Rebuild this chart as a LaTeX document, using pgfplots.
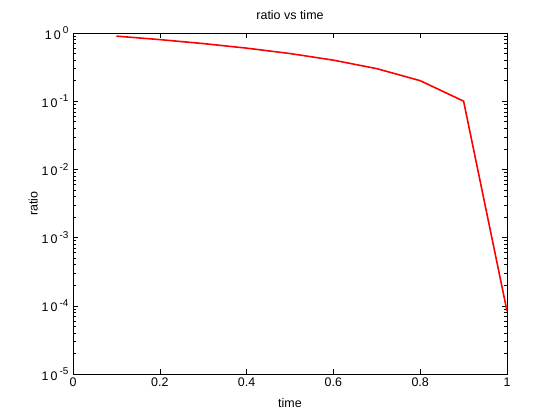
\documentclass[border=0pt]{standalone}
\usepackage{pgfplots}
\pgfplotsset{compat=1.18}
\usepackage{fontspec}
\setmainfont{Liberation Sans}
\begin{document}
\begin{tikzpicture}[x=1bp,y=1bp]
\begin{axis}[
  scale only axis, width=434bp, height=341bp,
  xmin=0, xmax=1, ymode=log, log basis y=10, ymin=1e-5, ymax=1,
  xtick={0,0.2,...,1}, ytick={1e-5,1e-4,1e-3,1e-2,1e-1,1},
  minor ytick={2e-5,3e-5,4e-5,5e-5,6e-5,7e-5,8e-5,9e-5,
    2e-4,3e-4,4e-4,5e-4,6e-4,7e-4,8e-4,9e-4,
    2e-3,3e-3,4e-3,5e-3,6e-3,7e-3,8e-3,9e-3,
    2e-2,3e-2,4e-2,5e-2,6e-2,7e-2,8e-2,9e-2,
    0.2,0.3,0.4,0.5,0.6,0.7,0.8,0.9},
  tick align=inside, major tick length=5bp, minor tick length=3bp,
  axis line style={line width=0.6pt}, every tick/.style={black, line width=0.5pt},
  /pgf/number format/assume math mode=true,
  xticklabel style={font=\fontsize{12.5}{14}\selectfont},
  yticklabel style={font=\fontsize{12.5}{14}\selectfont, xshift=-1bp},
  yticklabel={1\,0\,\raisebox{0.45em}{\fontsize{10}{12}\selectfont\pgfmathprintnumber[fixed,precision=0,assume math mode=true]{\tick}}},
  title={ratio vs time}, xlabel={time}, ylabel={ratio},
  title style={font=\fontsize{12.5}{14}\selectfont, yshift=4bp},
  xlabel style={font=\fontsize{12.5}{14}\selectfont, yshift=-5bp},
  ylabel style={font=\fontsize{12.5}{14}\selectfont, yshift=-3bp},
]
\addplot[red, line width=1.6pt] coordinates {
 (0.1,0.9) (0.2,0.8) (0.3,0.7) (0.4,0.6) (0.5,0.5) (0.6,0.4) (0.7,0.3) (0.8,0.2) (0.9,0.1) (1.0,8.4e-5)
};
\end{axis}
\pgfresetboundingbox
\useasboundingbox ([shift={(-73bp,-46bp)}]current axis.south west) rectangle ([shift={(53bp,33bp)}]current axis.north east);
\end{tikzpicture}
\end{document}
